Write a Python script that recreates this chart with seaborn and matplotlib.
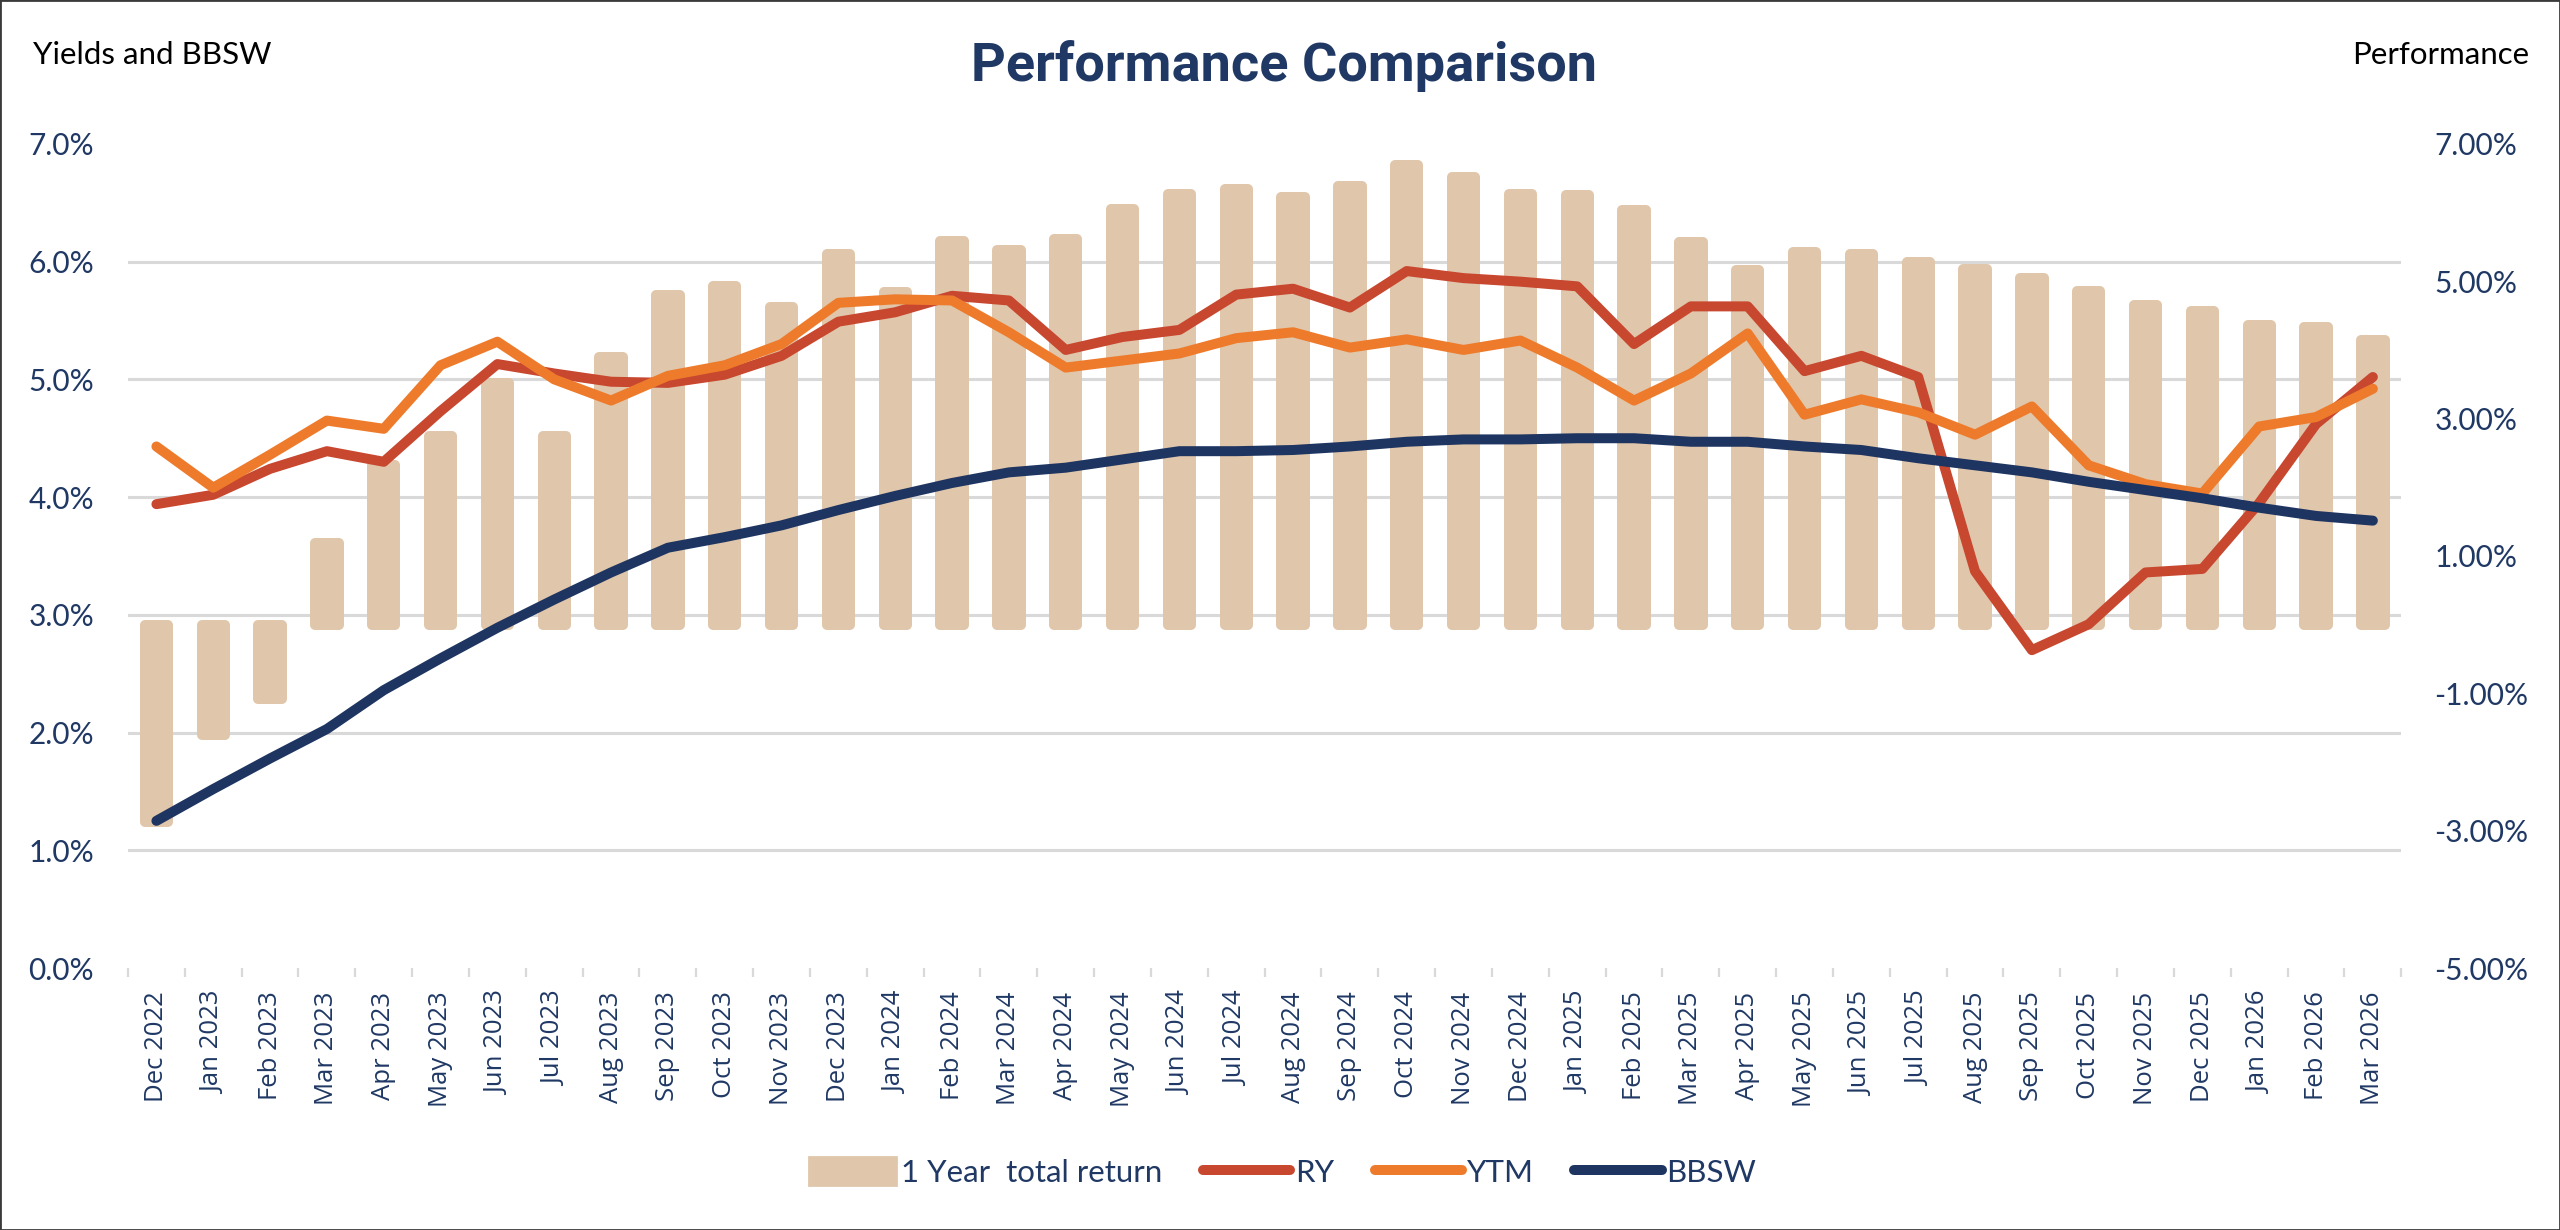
import numpy as np
import pandas as pd
import matplotlib
matplotlib.use("Agg")
import matplotlib.pyplot as plt
from matplotlib.ticker import FixedLocator, FuncFormatter
from matplotlib.patches import Rectangle, Patch
from matplotlib.lines import Line2D
import seaborn as sns

# ---- data ----
months = ["Dec 2022", "Jan 2023", "Feb 2023", "Mar 2023", "Apr 2023", "May 2023",
          "Jun 2023", "Jul 2023", "Aug 2023", "Sep 2023", "Oct 2023", "Nov 2023",
          "Dec 2023", "Jan 2024", "Feb 2024", "Mar 2024", "Apr 2024", "May 2024",
          "Jun 2024", "Jul 2024", "Aug 2024", "Sep 2024", "Oct 2024", "Nov 2024",
          "Dec 2024", "Jan 2025", "Feb 2025", "Mar 2025", "Apr 2025", "May 2025",
          "Jun 2025", "Jul 2025", "Aug 2025", "Sep 2025", "Oct 2025", "Nov 2025",
          "Dec 2025", "Jan 2026", "Feb 2026", "Mar 2026"]

# 1 year total return (right axis, %)
total_return = [-2.88, -1.61, -1.08, 1.19, 2.32, 2.74, 3.52, 2.75, 3.90, 4.80,
                4.93, 4.63, 5.39, 4.84, 5.58, 5.46, 5.62, 6.05, 6.27, 6.35,
                6.23, 6.38, 6.69, 6.52, 6.27, 6.26, 6.04, 5.57, 5.16, 5.43,
                5.39, 5.28, 5.18, 5.05, 4.86, 4.66, 4.56, 4.37, 4.33, 4.14]

# yields and BBSW (left axis, %)
ry = [3.94, 4.02, 4.24, 4.39, 4.30, 4.73, 5.13, 5.05, 4.98, 4.97,
      5.04, 5.20, 5.49, 5.57, 5.71, 5.67, 5.25, 5.36, 5.42, 5.72,
      5.77, 5.61, 5.92, 5.86, 5.83, 5.79, 5.30, 5.62, 5.62, 5.07,
      5.20, 5.02, 3.37, 2.70, 2.92, 3.36, 3.39, 3.95, 4.62, 5.02]

ytm = [4.43, 4.08, 4.36, 4.65, 4.58, 5.12, 5.32, 5.00, 4.82, 5.03,
       5.12, 5.30, 5.65, 5.68, 5.67, 5.40, 5.10, 5.16, 5.22, 5.35,
       5.40, 5.27, 5.34, 5.25, 5.33, 5.10, 4.82, 5.05, 5.39, 4.70,
       4.83, 4.72, 4.53, 4.77, 4.27, 4.11, 4.03, 4.60, 4.68, 4.92]

bbsw = [1.25, 1.52, 1.78, 2.03, 2.36, 2.63, 2.89, 3.13, 3.36, 3.57,
        3.66, 3.76, 3.89, 4.01, 4.12, 4.21, 4.25, 4.32, 4.39, 4.39,
        4.40, 4.43, 4.47, 4.49, 4.49, 4.50, 4.50, 4.47, 4.47, 4.43,
        4.40, 4.33, 4.27, 4.21, 4.13, 4.06, 3.99, 3.91, 3.84, 3.80]

left_ticks = [0, 1, 2, 3, 4, 5, 6, 7]
right_ticks = [-5, -3, -1, 1, 3, 5, 7]

# ---- colours ----
BAR = "#E0C6AB"
RY_C = "#C8472F"
YTM_C = "#EE7B2B"
BBSW_C = "#1F3561"
NAVY = "#1F3864"
GRID = "#D9D9D9"

sns.set_theme(style="white")
plt.rcParams["font.family"] = ["Lato", "DejaVu Sans"]

df = pd.DataFrame({"x": np.arange(len(months)), "perf": total_return,
                   "ry": ry, "ytm": ytm, "bbsw": bbsw})

fig = plt.figure(figsize=(25.6, 12.3), dpi=100)
ax_bar = fig.add_axes([0.05, 0.213, 0.888, 0.670])

# thick round-joined edge in the fill colour gives the rounded bar corners
sns.barplot(data=df, x="x", y="perf", ax=ax_bar, color=BAR, saturation=1,
            width=0.41, linewidth=7.2, edgecolor=BAR, zorder=2)
for p in ax_bar.patches:
    p.set_joinstyle("round")

ax_line = ax_bar.twinx()
for col, c in [("ry", RY_C), ("ytm", YTM_C), ("bbsw", BBSW_C)]:
    sns.lineplot(data=df, x="x", y=col, ax=ax_line, color=c, linewidth=7.2,
                 legend=False, solid_capstyle="round", solid_joinstyle="round")

# scales
ax_bar.set_ylim(right_ticks[0], right_ticks[-1])
ax_line.set_ylim(left_ticks[0], left_ticks[-1])
ax_bar.set_xlim(-0.5, len(months) - 0.5)

# right axis (bars)
ax_bar.yaxis.tick_right()
ax_bar.set_yticks(right_ticks)
ax_bar.yaxis.set_major_formatter(FuncFormatter(lambda v, _: f"{v:.2f}%"))
ax_bar.tick_params(axis="y", which="major", length=0, pad=24, labelsize=21.5,
                   labelcolor=NAVY)

# gridlines follow the left scale but sit behind the bars
lo, hi = ax_bar.get_ylim()
grid_vals = [lo + (t - left_ticks[0]) / (left_ticks[-1] - left_ticks[0]) * (hi - lo)
             for t in left_ticks]
ax_bar.yaxis.set_minor_locator(FixedLocator(grid_vals))
ax_bar.grid(False)
ax_bar.grid(which="minor", axis="y", color=GRID, linewidth=2.2)
ax_bar.tick_params(axis="y", which="minor", length=0)
ax_bar.set_axisbelow(True)

# left axis (lines)
ax_line.yaxis.tick_left()
ax_line.set_yticks(left_ticks)
ax_line.yaxis.set_major_formatter(FuncFormatter(lambda v, _: f"{v:.1f}%"))
ax_line.tick_params(axis="y", length=0, pad=24.5, labelsize=21.5, labelcolor=NAVY)
ax_line.grid(False)

# x axis
ax_bar.set_xticks(df["x"])
ax_bar.set_xticklabels(months, rotation=90)
ax_bar.set_xticks(np.arange(-0.5, len(months), 1), minor=True)
ax_bar.tick_params(axis="x", which="major", length=0, pad=17, labelsize=18.5,
                   labelcolor=NAVY, labelfontfamily="Open Sans")
ax_bar.tick_params(axis="x", which="minor", bottom=True, length=6.5, width=1.6,
                   color=GRID)

for a in (ax_bar, ax_line):
    a.set_xlabel("")
    a.set_ylabel("")
    for s in a.spines.values():
        s.set_visible(False)

# titles
fig.text(0.5016, 0.934, "Performance Comparison", ha="center", va="baseline",
         fontsize=39, fontweight="bold", color=NAVY, family=["Roboto", "DejaVu Sans"])
fig.text(0.0128, 0.948, "Yields and BBSW", ha="left", va="baseline",
         fontsize=22.5, color="black")
fig.text(0.988, 0.948, "Performance", ha="right", va="baseline",
         fontsize=22.5, color="black")

# legend
handles = [Patch(facecolor=BAR, edgecolor=BAR, linewidth=2, joinstyle="round"),
           Line2D([], [], color=RY_C, linewidth=7.2, solid_capstyle="round"),
           Line2D([], [], color=YTM_C, linewidth=7.2, solid_capstyle="round"),
           Line2D([], [], color=BBSW_C, linewidth=7.2, solid_capstyle="round")]
labels = ["1 Year  total return", "RY", "YTM", "BBSW"]
fig.legend(handles, labels, loc="center", bbox_to_anchor=(0.501, 0.047), ncol=4,
           frameon=False, fontsize=22.5, handlelength=2.8, handleheight=1.0,
           handletextpad=0.15, columnspacing=1.3, labelcolor=NAVY)

# thin frame around the chart
fig.add_artist(Rectangle((0, 0), 1, 1, transform=fig.transFigure, fill=False,
                         edgecolor="#3A3A3A", linewidth=2))

fig.savefig("out.png", dpi=100)
